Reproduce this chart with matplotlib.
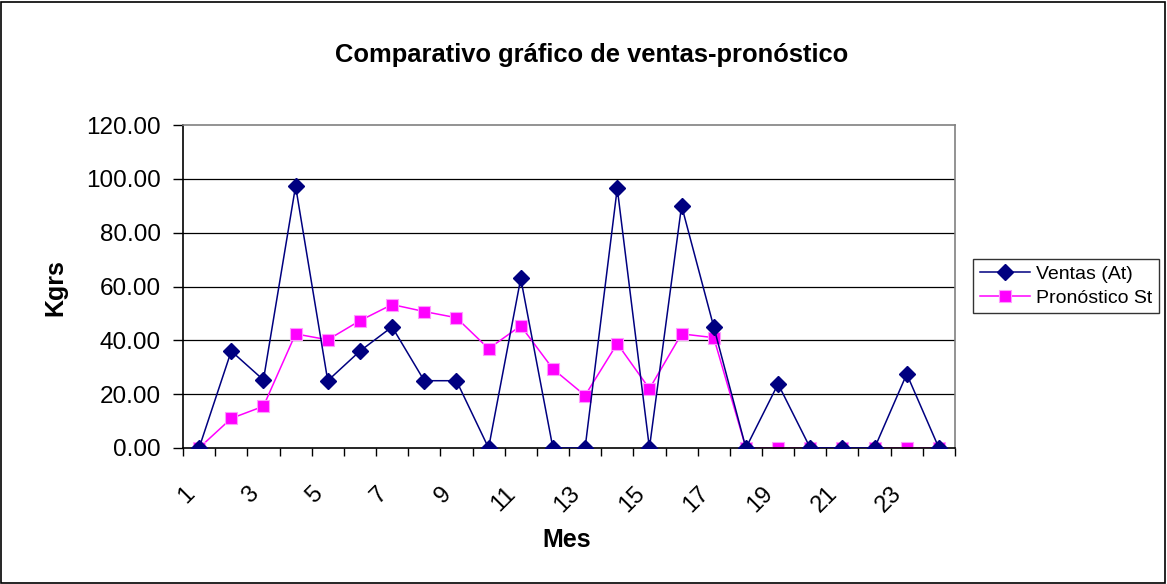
import numpy as np
import matplotlib.pyplot as plt
import matplotlib.transforms as mtransforms
from matplotlib.patches import Rectangle

plt.rcParams['font.family'] = ['Liberation Sans', 'DejaVu Sans']

meses = list(range(1, 25))
ventas = [0, 36, 25.3, 97.3, 25, 36, 45, 25, 25, 0, 63, 0,
          0, 96.5, 0, 90, 45, 0, 23.8, 0, 0, 0, 27.5, 0]
pronostico = [0, 11, 15.5, 42.4, 40.2, 47.3, 53.3, 50.7, 48.4, 36.9, 45.4, 29.4,
              19.5, 38.8, 22, 42.4, 41, 0, 0, 0, 0, 0, 0, 0]
yticks = [0, 20, 40, 60, 80, 100, 120]

W, H = 1167, 584
fig = plt.figure(figsize=(W / 100, H / 100), dpi=100)
ax = fig.add_axes([183 / W, 1 - 448 / H, (955 - 183) / W, (448 - 125) / H])

# gridlines
for v in yticks[1:-1]:
    ax.axhline(v, color='black', linewidth=0.9, zorder=1)

ax.plot(meses, ventas, color='#000080', linewidth=1.1, marker='D', markersize=8,
        markerfacecolor='#000080', markeredgecolor='#000080', label='Ventas (At)', zorder=3)
ax.plot(meses, pronostico, color='#FF00FF', linewidth=1.1, marker='s', markersize=8,
        markerfacecolor='#FF00FF', markeredgecolor='#FF99FF', markeredgewidth=0.8,
        label='Pronóstico St', zorder=2)

ax.set_xlim(0.5, 24.5)
ax.set_ylim(0, 120)

# ticks between categories, labels every second category
ax.set_xticks(np.arange(0.5, 25, 1))
ax.set_xticklabels([])
ax.tick_params(axis='x', which='major', direction='out', length=6, width=1, color='black')
ax.set_xticks(meses[::2], minor=True)
ax.set_xticklabels([str(m) for m in meses[::2]], minor=True, rotation=45,
                   ha='right', va='top', rotation_mode='anchor', fontsize=17)
ax.tick_params(axis='x', which='minor', length=0, pad=25)
shift = mtransforms.ScaledTranslation(-16 / 100, 0, fig.dpi_scale_trans)
for lbl in ax.get_xticklabels(minor=True):
    lbl.set_transform(lbl.get_transform() + shift)

ax.set_yticks(yticks)
ax.set_yticklabels([f'{v:.2f}' for v in yticks], fontsize=17.5)
ax.tick_params(axis='y', direction='out', length=7, width=1, pad=9)

for s in ['top', 'right']:
    ax.spines[s].set_color('#808080')
    ax.spines[s].set_linewidth(1.2)
for s in ['left', 'bottom']:
    ax.spines[s].set_color('black')
    ax.spines[s].set_linewidth(1.2)

fig.text(567 / W, 1 - 540 / H, 'Mes', fontsize=18, fontweight='bold',
         ha='center', va='center')
fig.text(55 / W, 1 - 288 / H, 'Kgrs', fontsize=18, fontweight='bold',
         ha='center', va='center', rotation=90)
fig.text(592 / W, 1 - 55 / H, 'Comparativo gráfico de ventas-pronóstico',
         fontsize=18.4, fontweight='bold', ha='center', va='center')

leg = ax.legend(loc='center left', bbox_to_anchor=(973 / W, 1 - 286 / H),
                bbox_transform=fig.transFigure, fontsize=14, frameon=True, fancybox=False,
                handlelength=2.6, handletextpad=0.3, borderpad=0.35, labelspacing=0.3,
                borderaxespad=0)
leg.get_frame().set_edgecolor('black')
leg.get_frame().set_linewidth(1)

fig.patches.append(Rectangle((1 / W, 1 / H), (W - 3) / W, (H - 3) / H,
                             transform=fig.transFigure, fill=False,
                             edgecolor='black', linewidth=1.2))

fig.savefig('out.png', dpi=100)
